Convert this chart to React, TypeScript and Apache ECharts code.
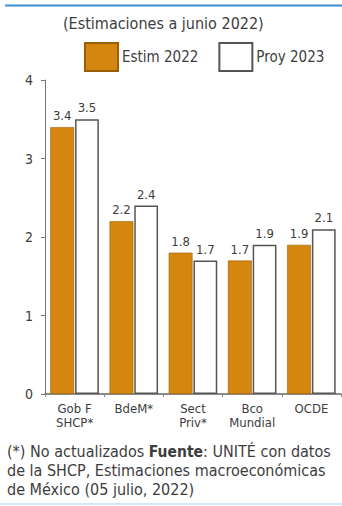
import React, { useEffect, useRef } from "react";
import * as echarts from "echarts";

const categories = ["Gob F\nSHCP*", "BdeM*", "Sect\nPriv*", "Bco\nMundial", "OCDE"];
const estim2022 = [3.4, 2.2, 1.8, 1.7, 1.9];
const proy2023 = [3.5, 2.4, 1.7, 1.9, 2.1];
const seriesNames = ["Estim 2022", "Proy 2023"];
const yTicks = { min: 0, max: 4, interval: 1 };

const FONT = "'DejaVu Sans Condensed', 'Liberation Sans Narrow', sans-serif";
const ORANGE = "#D4860E";
const INK = "#3d3d3d";

export default function App() {
  const ref = useRef<HTMLDivElement>(null);

  useEffect(() => {
    if (!ref.current) return;
    const chart = echarts.init(ref.current, null, { renderer: "svg" });
    chart.setOption({
      animation: false,
      backgroundColor: "#ffffff",
      textStyle: { fontFamily: FONT },
      title: {
        text: "(Estimaciones a junio 2022)",
        left: 63,
        top: 15,
        padding: 0,
        textStyle: { fontFamily: FONT, fontSize: 16, fontWeight: "normal", color: INK },
      },
      legend: {
        left: 84,
        top: 42,
        padding: 0,
        icon: "rect",
        itemWidth: 33,
        itemHeight: 28,
        itemGap: 20,
        data: seriesNames,
        textStyle: { fontFamily: FONT, fontSize: 15, color: INK, padding: [0, 0, 0, -1] },
      },
      grid: { left: 45, right: 1, top: 80, bottom: 112, containLabel: false },
      xAxis: {
        type: "category",
        data: categories,
        axisLine: { lineStyle: { color: "#666", width: 1.5 } },
        axisTick: { show: true, length: 3, lineStyle: { color: "#888" } },
        axisLabel: {
          interval: 0,
          fontFamily: FONT,
          fontSize: 13,
          lineHeight: 14,
          color: INK,
          margin: 7,
        },
      },
      yAxis: {
        type: "value",
        min: yTicks.min,
        max: yTicks.max,
        interval: yTicks.interval,
        splitLine: { show: false },
        axisLine: { show: true, lineStyle: { color: "#777", width: 1 } },
        axisTick: { show: true, length: 4, lineStyle: { color: "#777" } },
        axisLabel: { fontFamily: FONT, fontSize: 14, color: INK, margin: 12 },
      },
      series: [
        {
          name: seriesNames[0],
          type: "bar",
          data: estim2022,
          barGap: "4%",
          barCategoryGap: "18%",
          itemStyle: { color: ORANGE, borderColor: "#9a5f05", borderWidth: 0.6 },
          label: {
            show: true,
            position: "top",
            distance: 5,
            fontFamily: FONT,
            fontSize: 13,
            color: INK,
          },
        },
        {
          name: seriesNames[1],
          type: "bar",
          data: proy2023,
          itemStyle: { color: "#ffffff", borderColor: "#555", borderWidth: 1.5 },
          label: {
            show: true,
            position: "top",
            distance: 5,
            fontFamily: FONT,
            fontSize: 13,
            color: INK,
          },
        },
      ],
      graphic: [
        {
          type: "line",
          shape: { x1: 5, y1: 5.5, x2: 342, y2: 5.5 },
          style: { stroke: "#3b8fd4", lineWidth: 2 },
        },
        {
          type: "line",
          shape: { x1: 0, y1: 504, x2: 342, y2: 504 },
          style: { stroke: "#a9cfee", lineWidth: 1 },
        },
        {
          type: "text",
          left: 7,
          top: 442,
          style: {
            text: "(*) No actualizados {b|Fuente}: UNITÉ con datos\nde la SHCP, Estimaciones macroeconómicas\nde México (05 julio, 2022)",
            fontFamily: FONT,
            fontSize: 16,
            lineHeight: 19,
            fill: INK,
            rich: {
              b: { fontFamily: FONT, fontSize: 15.5, fontWeight: "bold", fill: INK },
            },
          },
        },
      ],
    });
    return () => chart.dispose();
  }, []);

  return (
    <div
      ref={ref}
      style={{ position: "fixed", left: 0, top: 0, width: 342, height: 506, background: "#fff" }}
    />
  );
}
